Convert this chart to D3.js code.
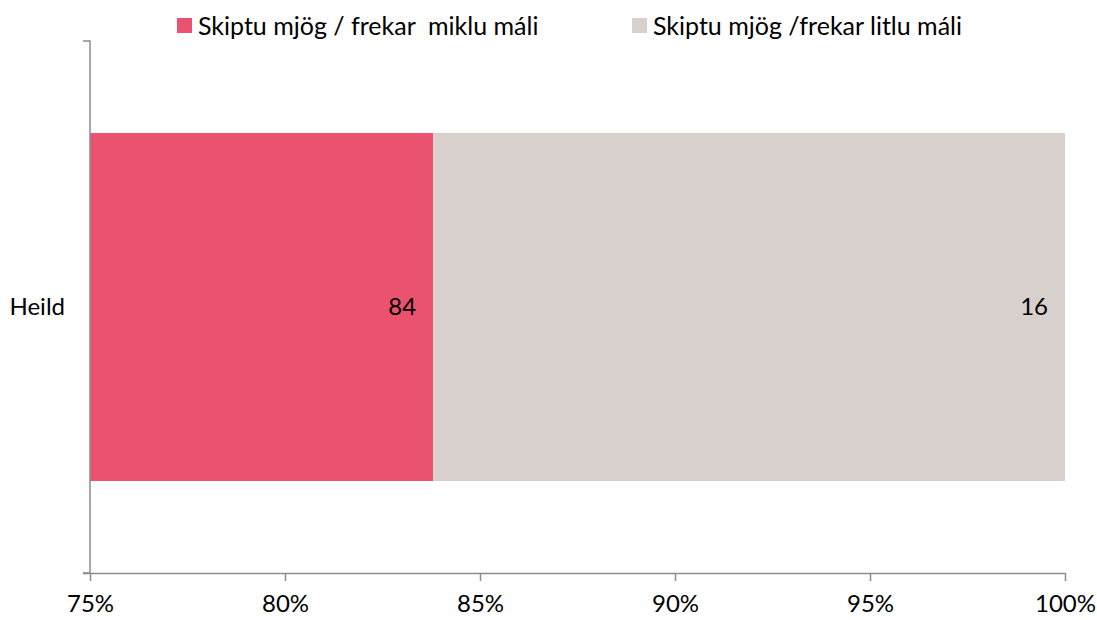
<!DOCTYPE html>
<html>
<head>
<meta charset="utf-8">
<script src="https://cdn.jsdelivr.net/npm/d3@7"></script>
<style>
  body { margin: 0; background: #fff; }
  svg { display: block; font-family: Lato, "Open Sans", sans-serif; }
</style>
</head>
<body>
<svg id="chart" width="1097" height="620"></svg>
<script>
// Stacked horizontal bar: share of responses per group
const categories = ["Heild"];
const seriesNames = ["Skiptu mjög / frekar  miklu máli", "Skiptu mjög /frekar litlu máli"];
const seriesColors = ["#EB5270", "#D8D0CD"];
const highValues = [83.8];
const lowValues = [16.2];
const tickValues = [75, 80, 85, 90, 95, 100];

const svg = d3.select("#chart");
const margin = { left: 90, right: 32, top: 41, bottom: 47 };
const W = 1097, H = 620;
const FONT = "Lato, 'Open Sans', sans-serif";

const x = d3.scaleLinear().domain([75, 100]).range([margin.left, W - margin.right]);
const y = d3.scaleBand().domain(categories).range([margin.top, H - margin.bottom]).padding(0.209);

// Build stacked segments, starting from the axis minimum
const rows = categories.map((c, i) => ({ cat: c, values: [highValues[i], lowValues[i]] }));
const segs = [];
rows.forEach(r => {
  let acc = 0;
  r.values.forEach((v, k) => {
    segs.push({ cat: r.cat, k, v, x0: acc, x1: acc + v });
    acc += v;
  });
});

const clampX = v => x(Math.max(75, Math.min(100, v)));

svg.selectAll("rect.seg").data(segs).join("rect")
  .attr("class", "seg")
  .attr("x", d => clampX(d.x0))
  .attr("width", d => clampX(d.x1) - clampX(d.x0))
  .attr("y", d => y(d.cat))
  .attr("height", y.bandwidth())
  .attr("fill", d => seriesColors[d.k]);

svg.selectAll("text.val").data(segs).join("text")
  .attr("class", "val")
  .attr("x", d => clampX(d.x1) - 17)
  .attr("y", d => y(d.cat) + y.bandwidth() / 2)
  .attr("dy", "0.35em")
  .attr("text-anchor", "end")
  .attr("font-size", 24)
  .attr("fill", "#000")
  .text(d => Math.round(d.v));

// X axis
const xAxis = d3.axisBottom(x)
  .tickValues(tickValues)
  .tickFormat(d => d + "%")
  .tickSize(8)
  .tickSizeOuter(0)
  .tickPadding(14);
const gx = svg.append("g")
  .attr("transform", `translate(0,${H - margin.bottom})`)
  .call(xAxis);
gx.select(".domain").attr("stroke", "#8c8c8c").attr("stroke-width", 1.5)
  .attr("d", `M${margin.left - 7},0.5H${W - margin.right}`);
gx.selectAll(".tick line").attr("stroke", "#8c8c8c").attr("stroke-width", 1.5);
gx.selectAll(".tick text").attr("font-size", 24).attr("fill", "#000")
  .attr("font-family", FONT);

// Y axis
const yAxis = d3.axisLeft(y).tickSize(0).tickPadding(25);
const gy = svg.append("g")
  .attr("transform", `translate(${margin.left},0)`)
  .call(yAxis);
gy.select(".domain").attr("stroke", "#8c8c8c").attr("stroke-width", 1.5)
  .attr("d", `M-7,${margin.top}H0V${H - margin.bottom}H-7`);
gy.selectAll(".tick text").attr("font-size", 24).attr("fill", "#000")
  .attr("font-family", FONT);

// Legend
const legendX = [177, 632];
const lg = svg.selectAll("g.leg").data(seriesNames).join("g")
  .attr("class", "leg")
  .attr("transform", (d, i) => `translate(${legendX[i]},18)`);
lg.append("rect").attr("width", 15).attr("height", 15)
  .attr("fill", (d, i) => seriesColors[i]);
lg.append("text").attr("x", 21).attr("y", 8).attr("dy", "0.35em")
  .attr("font-size", 25).attr("fill", "#000")
  .style("white-space", "pre")
  .text(d => d);
</script>
</body>
</html>
